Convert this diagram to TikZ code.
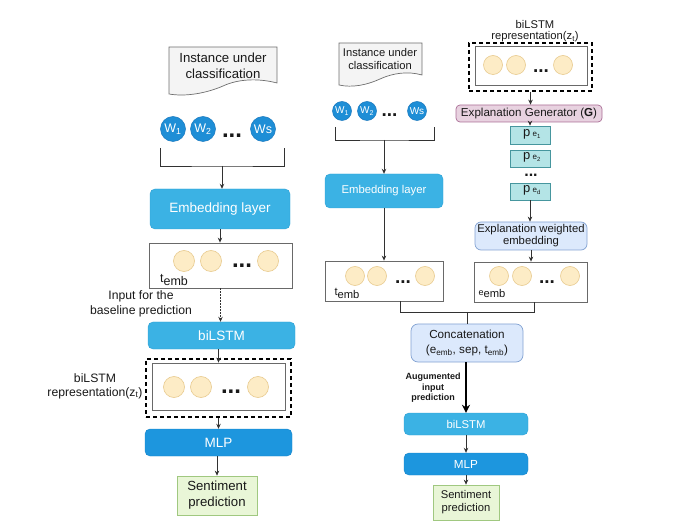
\documentclass[tikz,border=0pt]{standalone}
\usepackage{fontspec}
\setmainfont{Liberation Sans}
\usetikzlibrary{arrows.meta}
\definecolor{skyb}{RGB}{59,178,228}
\definecolor{skybd}{RGB}{45,160,212}
\definecolor{mlpb}{RGB}{29,150,222}
\definecolor{mlpbd}{RGB}{22,132,200}
\definecolor{wblue}{RGB}{30,142,214}
\definecolor{wblued}{RGB}{25,120,190}
\definecolor{creamf}{RGB}{253,236,198}
\definecolor{creamd}{RGB}{232,202,142}
\definecolor{sentf}{RGB}{233,246,215}
\definecolor{sentd}{RGB}{160,200,128}
\definecolor{ltblf}{RGB}{220,233,252}
\definecolor{ltbld}{RGB}{130,162,210}
\definecolor{pinkf}{RGB}{232,210,224}
\definecolor{pinkd}{RGB}{170,110,150}
\definecolor{tealf}{RGB}{180,228,230}
\definecolor{teald}{RGB}{70,150,158}
\definecolor{docf}{RGB}{244,244,244}
\definecolor{docd}{RGB}{110,110,110}
\definecolor{linec}{RGB}{50,50,50}
\definecolor{boxd}{RGB}{105,105,105}
\definecolor{txtc}{RGB}{25,25,25}
\begin{document}
\begin{tikzpicture}[x=1pt,y=-1pt,
  con/.style={draw=linec, line width=0.75pt},
  arr/.style={con, -{Stealth[length=5pt,width=4.5pt]}},
  dotarr/.style={arr, dash pattern=on 1.5pt off 1.5pt},
  bigarr/.style={draw=black, line width=2.2pt, -{Stealth[length=8pt,width=8pt]}},
  txt/.style={inner sep=0pt, align=center, text=txtc},
  solidbox/.style={rectangle, inner sep=0pt, text=white, align=center},
  skybox/.style={solidbox, fill=skyb, draw=skybd, rounded corners=5pt},
  mlpbox/.style={solidbox, fill=mlpb, draw=mlpbd, rounded corners=5pt},
  vecbox/.style={rectangle, draw=boxd, fill=white, line width=0.8pt, inner sep=0pt},
  dashbox/.style={rectangle, draw=black, line width=1.3pt, dash pattern=on 4pt off 3pt, inner sep=0pt},
  cream/.style={circle, fill=creamf, draw=creamd, line width=0.6pt, inner sep=0pt},
  wordc/.style={circle, fill=wblue, draw=wblued, line width=0.5pt, inner sep=0pt, text=white},
  sentbox/.style={rectangle, fill=sentf, draw=sentd, line width=0.7pt, align=center, inner sep=0pt, text=txtc},
  ltbox/.style={rectangle, rounded corners=6pt, fill=ltblf, draw=ltbld, line width=0.7pt, align=center, inner sep=0pt, text=txtc},
  egbox/.style={rectangle, rounded corners=4pt, fill=pinkf, draw=pinkd, line width=0.7pt, inner sep=0pt, text=txtc},
  pbox/.style={rectangle, fill=tealf, draw=teald, line width=0.7pt, inner sep=0pt, minimum width=40pt},
  ptxt/.style={txt, font=\fontsize{13}{13}\selectfont, anchor=base west},
  docsh/.style={fill=docf, draw=docd, line width=0.7pt},
  dotsL/.style={inner sep=0pt, text=txtc, font=\bfseries\fontsize{24}{24}\selectfont},
  dotsR/.style={inner sep=0pt, text=txtc, font=\bfseries\fontsize{19}{19}\selectfont}
]
\useasboundingbox (0,0) rectangle (680,529);

% ================= LEFT COLUMN =================
\path[docsh] (169,47) -- (277,47) -- (277,83) .. controls (258,78) and (238,79) .. (223,86)
  .. controls (207,93) and (186,97) .. (169,94) -- cycle;
\node[txt, font=\fontsize{13.2}{16}\selectfont] (docL) at (223,66) {Instance under\\classification};

\node[wordc, minimum size=25pt, font=\fontsize{12.5}{12.5}\selectfont] (wL1) at (173,129) {W\textsubscript{1}};
\node[wordc, minimum size=25pt, font=\fontsize{12.5}{12.5}\selectfont] (wL2) at (203,129) {W\textsubscript{2}};
\node[dotsL] (dL1) at (232,136) {...};
\node[wordc, minimum size=25pt, font=\fontsize{12.5}{12.5}\selectfont] (wLs) at (263,129) {Ws};

\coordinate (bL1) at (160,148);
\coordinate (bL2) at (284,148);
\coordinate (bLm) at (222,166);
\draw[con] (bL1) |- (bLm) -| (bL2);

\node[skybox, minimum width=140pt, minimum height=40pt, font=\fontsize{13.5}{13.5}\selectfont] (embL) at (220,209) {Embedding layer};
\draw[arr] (bLm) -- (bLm |- embL.north);

\node[vecbox, minimum width=143pt, minimum height=45pt] (tembL) at (220.5,265.5) {};
\node[cream, minimum size=21pt] (tL1) at (184,261) {};
\node[cream, minimum size=21pt] (tL2) at (211,261) {};
\node[dotsL] (dL2) at (242,266) {...};
\node[cream, minimum size=21pt] (tL3) at (268,261) {};
\node[txt, font=\fontsize{12.5}{12.5}\selectfont] (tLlab) at (174,280) {t\raisebox{-3.5pt}{emb}};
\draw[arr] (embL.south) -- (embL.south |- tembL.north);

\node[txt, font=\fontsize{12.2}{15}\selectfont] (inlab) at (141,303.5) {Input for the\\baseline prediction};

\node[skybox, minimum width=147pt, minimum height=27pt, font=\fontsize{13.5}{13.5}\selectfont] (bilL) at (221.5,335.5) {biLSTM};
\draw[dotarr] (tembL.south) -- (tembL.south |- bilL.north);

\node[dashbox, minimum width=145pt, minimum height=58pt] (dashL) at (218.5,388) {};
\node[vecbox, minimum width=133pt, minimum height=47pt] (inL) at (218.5,386.5) {};
\node[cream, minimum size=21pt] (zL1) at (174,387) {};
\node[cream, minimum size=21pt] (zL2) at (201,387) {};
\node[dotsL] (dL3) at (231,392) {...};
\node[cream, minimum size=21pt] (zL3) at (258,387) {};
\node[txt, font=\fontsize{12.2}{14}\selectfont] (zLlab) at (95,386) {biLSTM\\representation(z\textsubscript{t})};
\draw[arr] (inL.north |- bilL.south) -- (inL.north);

\node[mlpbox, minimum width=147pt, minimum height=27pt, font=\fontsize{13.5}{13.5}\selectfont] (mlpL) at (218.5,442.5) {MLP};
\draw[arr] (dashL.south) -- (dashL.south |- mlpL.north);

\node[sentbox, minimum width=80pt, minimum height=39pt, font=\fontsize{13.2}{16}\selectfont] (sentL) at (217,495.5) {Sentiment\\prediction};
\draw[arr] (sentL.north |- mlpL.south) -- (sentL.north);

% ================= MIDDLE COLUMN =================
\path[docsh] (339,43) -- (422,43) -- (422,75) .. controls (408,71) and (393,73) .. (380,79)
  .. controls (367,85) and (352,88) .. (339,85) -- cycle;
\node[txt, font=\fontsize{11.2}{12.5}\selectfont] (docM) at (380,59) {Instance under\\classification};

\node[wordc, minimum size=19pt, font=\fontsize{10}{10}\selectfont] (wM1) at (342,111) {W\textsubscript{1}};
\node[wordc, minimum size=19pt, font=\fontsize{10}{10}\selectfont] (wM2) at (367,111) {W\textsubscript{2}};
\node[dotsR] (dM1) at (389.5,115) {...};
\node[wordc, minimum size=19pt, font=\fontsize{10}{10}\selectfont] (wMs) at (417,111) {Ws};

\coordinate (bM1) at (335,127);
\coordinate (bM2) at (434,127);
\coordinate (bMm) at (384,140);
\draw[con] (bM1) |- (bMm) -| (bM2);

\node[skybox, minimum width=118pt, minimum height=34pt, font=\fontsize{11.3}{11.3}\selectfont] (embM) at (384,191) {Embedding layer};
\draw[arr] (bMm) -- (bMm |- embM.north);

\node[vecbox, minimum width=118pt, minimum height=40pt] (tembM) at (384,281) {};
\node[cream, minimum size=19pt] (tM1) at (355,276) {};
\node[cream, minimum size=19pt] (tM2) at (377,276) {};
\node[dotsR] (dM2) at (403,282) {...};
\node[cream, minimum size=19pt] (tM3) at (425,276) {};
\node[txt, font=\fontsize{11.2}{11.2}\selectfont] (tMlab) at (347,293) {t\raisebox{-3pt}{emb}};
\draw[arr] (embM.south) -- (embM.south |- tembM.north);

% ================= RIGHT COLUMN =================
\node[txt, font=\fontsize{11.2}{11.5}\selectfont] (zRlab) at (535,31) {biLSTM\\representation(z\textsubscript{t})};
\node[dashbox, minimum width=123pt, minimum height=48pt] (dashR) at (530.5,67) {};
\node[vecbox, minimum width=112pt, minimum height=39pt] (inR) at (531,65.5) {};
\node[cream, minimum size=19pt] (zR1) at (493,65) {};
\node[cream, minimum size=19pt] (zR2) at (516,65) {};
\node[dotsR] (dR1) at (541,71) {...};
\node[cream, minimum size=19pt] (zR3) at (563,65) {};

\node[egbox, minimum width=146pt, minimum height=17pt, font=\fontsize{11.6}{11.6}\selectfont] (eg) at (529,113.5) {Explanation Generator (\textbf{G})};
\draw[arr] (dashR.south) -- (dashR.south |- eg.north);

\node[pbox, minimum height=18pt] (pe1) at (530,135) {};
\node[ptxt] (pe1t) at (523,137) {p\,{\fontsize{8}{8}\selectfont e\textsubscript{1}}};
\node[pbox, minimum height=17pt] (pe2) at (530,158.5) {};
\node[ptxt] (pe2t) at (523,160) {p\,{\fontsize{8}{8}\selectfont e\textsubscript{2}}};
\node[dotsR, font=\bfseries\fontsize{16}{16}\selectfont] (dR2) at (531,175) {...};
\node[pbox, minimum height=17pt] (ped) at (530,191.5) {};
\node[ptxt] (pedt) at (523,193) {p\,{\fontsize{8}{8}\selectfont e\textsubscript{d}}};
\draw[arr] (pe1.north |- eg.south) -- (pe1.north);

\node[ltbox, minimum width=112pt, minimum height=28pt, font=\fontsize{11.3}{12}\selectfont] (ewe) at (531,236) {Explanation weighted\\embedding};
\draw[arr] (ped.south) -- (ped.south |- ewe.north);

\node[vecbox, minimum width=113pt, minimum height=40pt] (eemb) at (530.5,282) {};
\node[cream, minimum size=19pt] (eR1) at (499,276) {};
\node[cream, minimum size=19pt] (eR2) at (522,276) {};
\node[dotsR] (dR3) at (547,282) {...};
\node[cream, minimum size=19pt] (eR3) at (570,276) {};
\node[txt, font=\fontsize{11.2}{11.2}\selectfont] (eRlab) at (492,293) {{\fontsize{9}{9}\selectfont e}\raisebox{-1.5pt}{emb}};
\draw[arr] (ewe.south) -- (ewe.south |- eemb.north);

% ================= CONCATENATION PATH =================
\node[ltbox, minimum width=112pt, minimum height=38pt, rounded corners=7pt, font=\fontsize{11.7}{15}\selectfont] (concat) at (467,343) {Concatenation\\(e\textsubscript{emb}, sep, t\textsubscript{emb})};
\coordinate (jn) at (467,312);
\draw[con] ([xshift=16pt]tembM.south) |- (jn);
\draw[con] ([xshift=3.5pt]eemb.south) |- (jn);
\draw[con] (jn) -- (concat.north);

\node[skybox, minimum width=124pt, minimum height=22pt, font=\fontsize{11.3}{11.3}\selectfont] (bilR) at (466,424) {biLSTM};
\draw[bigarr] (bilR.north |- concat.south) -- (bilR.north);
\node[txt, font=\bfseries\fontsize{9}{10.5}\selectfont] (aug) at (433,388) {Augumented\\input\\prediction};

\node[mlpbox, minimum width=124pt, minimum height=22pt, font=\fontsize{11.7}{11.7}\selectfont] (mlpR) at (466,464) {MLP};
\draw[arr] (bilR.south) -- (bilR.south |- mlpR.north);

\node[sentbox, minimum width=66pt, minimum height=35pt, font=\fontsize{11.2}{13}\selectfont] (sentR) at (466,502.5) {Sentiment\\prediction};
\draw[arr] (mlpR.south) -- (mlpR.south |- sentR.north);
\end{tikzpicture}
\end{document}
